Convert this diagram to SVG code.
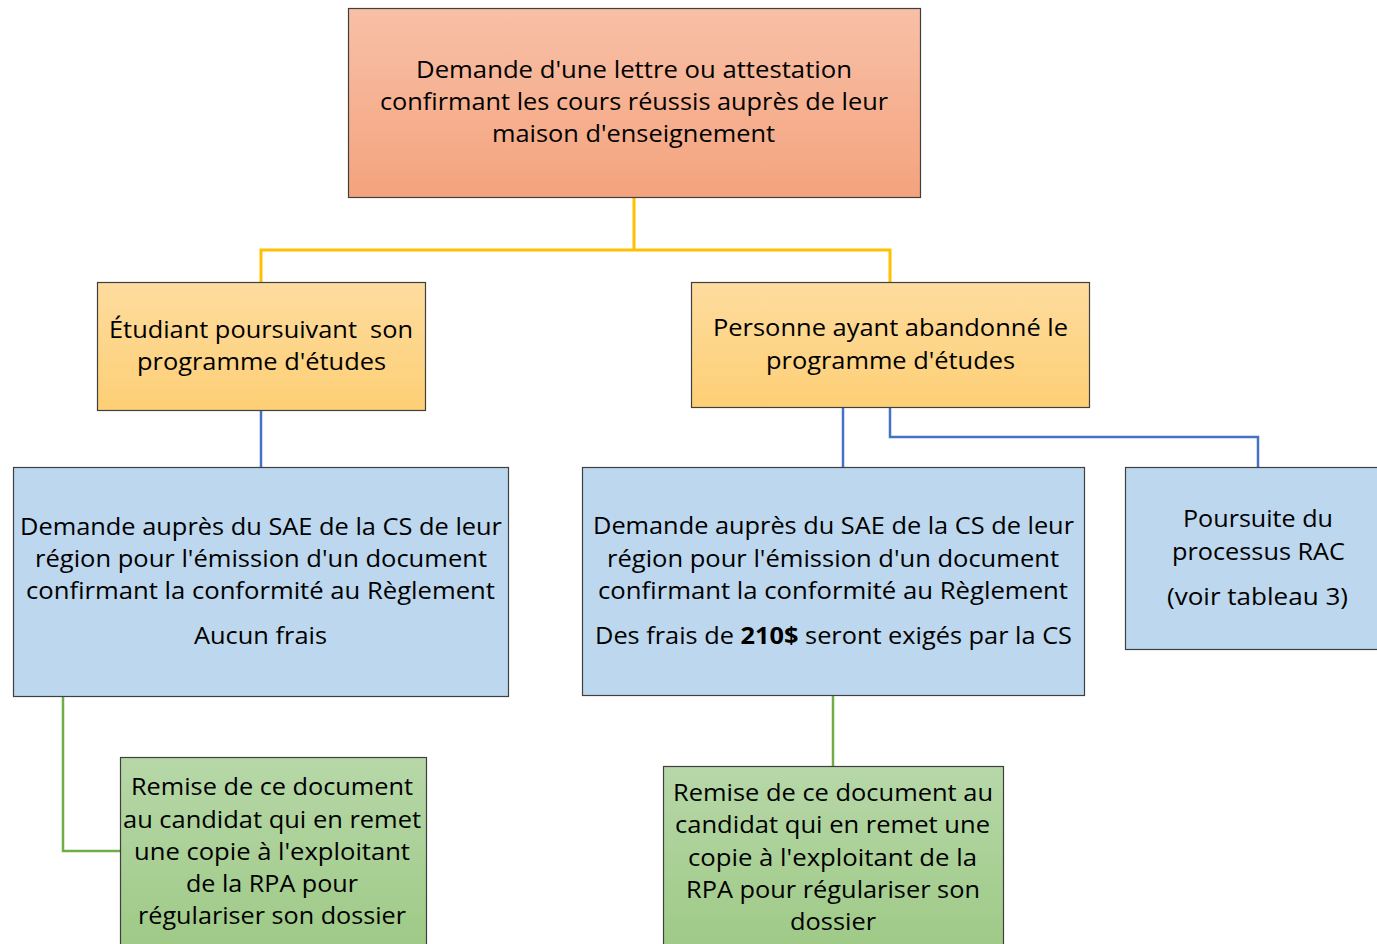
<svg xmlns="http://www.w3.org/2000/svg" width="1377" height="944" viewBox="0 0 1377 944">
<defs>
<linearGradient id="gOrange" x1="0" y1="0" x2="0" y2="1"><stop offset="0" stop-color="#F8C0A7"/><stop offset="1" stop-color="#F4A37D"/></linearGradient>
<linearGradient id="gYellow" x1="0" y1="0" x2="0" y2="1"><stop offset="0" stop-color="#FEDC9F"/><stop offset="1" stop-color="#FDCF75"/></linearGradient>
<linearGradient id="gGreen" x1="0" y1="0" x2="0" y2="1"><stop offset="0" stop-color="#B7D7A8"/><stop offset="1" stop-color="#9DC985"/></linearGradient>
</defs>
<style>
.box{stroke:#3F3F3F;stroke-width:1.2}
.blue{fill:#BDD7EE}
.t{font-family:"Open Sans","Liberation Sans",sans-serif;font-size:23px;fill:#000;text-anchor:start}
.cy{fill:none;stroke:#FFC000;stroke-width:3}
.cb{fill:none;stroke:#4472C4;stroke-width:2.5}
.cg{fill:none;stroke:#70AD47;stroke-width:2.5}
</style>
<rect width="1377" height="944" fill="#FFFFFF"/>
<g id="connectors">
<path class="cy" d="M634,197 V250 M261,282 V250 H890 V282"/>
<path class="cb" d="M261,410 V467"/>
<path class="cb" d="M843,407 V467"/>
<path class="cb" d="M890,407 V437 H1258 V467"/>
<path class="cg" d="M63,696 V851 H120"/>
<path class="cg" d="M833,695 V766"/>
</g>
<g id="n-top">
<rect class="box" x="348.5" y="8.5" width="572" height="189" fill="url(#gOrange)"/>
<text class="t" x="416" y="78" textLength="436" lengthAdjust="spacingAndGlyphs">Demande d'une lettre ou attestation</text>
<text class="t" x="380" y="110" textLength="508" lengthAdjust="spacingAndGlyphs">confirmant les cours réussis auprès de leur</text>
<text class="t" x="492" y="142" textLength="283" lengthAdjust="spacingAndGlyphs">maison d'enseignement</text>
</g>
<g id="n-etudiant">
<rect class="box" x="97.5" y="282.5" width="328" height="128" fill="url(#gYellow)"/>
<text class="t" x="109" y="338" textLength="304" lengthAdjust="spacingAndGlyphs" xml:space="preserve">Étudiant poursuivant  son</text>
<text class="t" x="137" y="370" textLength="249" lengthAdjust="spacingAndGlyphs">programme d'études</text>
</g>
<g id="n-abandon">
<rect class="box" x="691.5" y="282.5" width="398" height="125" fill="url(#gYellow)"/>
<text class="t" x="713" y="336" textLength="355" lengthAdjust="spacingAndGlyphs">Personne ayant abandonné le</text>
<text class="t" x="766" y="369" textLength="249" lengthAdjust="spacingAndGlyphs">programme d'études</text>
</g>
<g id="n-demande-gauche">
<rect class="box blue" x="13.5" y="467.5" width="495" height="229"/>
<text class="t" x="20" y="535" textLength="482" lengthAdjust="spacingAndGlyphs">Demande auprès du SAE de la CS de leur</text>
<text class="t" x="35" y="567" textLength="452" lengthAdjust="spacingAndGlyphs">région pour l'émission d'un document</text>
<text class="t" x="26" y="599" textLength="469" lengthAdjust="spacingAndGlyphs">confirmant la conformité au Règlement</text>
<text class="t" x="194" y="644" textLength="133" lengthAdjust="spacingAndGlyphs">Aucun frais</text>
</g>
<g id="n-demande-milieu">
<rect class="box blue" x="582.5" y="467.5" width="502" height="228"/>
<text class="t" x="593" y="534" textLength="481" lengthAdjust="spacingAndGlyphs">Demande auprès du SAE de la CS de leur</text>
<text class="t" x="607" y="567" textLength="452" lengthAdjust="spacingAndGlyphs">région pour l'émission d'un document</text>
<text class="t" x="598" y="599" textLength="470" lengthAdjust="spacingAndGlyphs">confirmant la conformité au Règlement</text>
<text class="t" x="595" y="644" textLength="477" lengthAdjust="spacingAndGlyphs">Des frais de <tspan font-weight="bold">210$</tspan> seront exigés par la CS</text>
</g>
<g id="n-rac">
<rect class="box blue" x="1125.5" y="467.5" width="260" height="182"/>
<text class="t" x="1183" y="527" textLength="150" lengthAdjust="spacingAndGlyphs">Poursuite du</text>
<text class="t" x="1172" y="560" textLength="173" lengthAdjust="spacingAndGlyphs">processus RAC</text>
<text class="t" x="1167" y="605" textLength="181" lengthAdjust="spacingAndGlyphs">(voir tableau 3)</text>
</g>
<g id="n-remise-gauche">
<rect class="box" x="120.5" y="757.5" width="306" height="200" fill="url(#gGreen)"/>
<text class="t" x="131" y="795" textLength="282" lengthAdjust="spacingAndGlyphs">Remise de ce document</text>
<text class="t" x="123" y="828" textLength="298" lengthAdjust="spacingAndGlyphs">au candidat qui en remet</text>
<text class="t" x="134" y="860" textLength="276" lengthAdjust="spacingAndGlyphs">une copie à l'exploitant</text>
<text class="t" x="186" y="892" textLength="172" lengthAdjust="spacingAndGlyphs">de la RPA pour</text>
<text class="t" x="138" y="924" textLength="268" lengthAdjust="spacingAndGlyphs">régulariser son dossier</text>
</g>
<g id="n-remise-milieu">
<rect class="box" x="663.5" y="766.5" width="340" height="190" fill="url(#gGreen)"/>
<text class="t" x="673" y="801" textLength="320" lengthAdjust="spacingAndGlyphs">Remise de ce document au</text>
<text class="t" x="675" y="833" textLength="315" lengthAdjust="spacingAndGlyphs">candidat qui en remet une</text>
<text class="t" x="688" y="866" textLength="289" lengthAdjust="spacingAndGlyphs">copie à l'exploitant de la</text>
<text class="t" x="686" y="898" textLength="294" lengthAdjust="spacingAndGlyphs">RPA pour régulariser son</text>
<text class="t" x="790" y="930" textLength="86" lengthAdjust="spacingAndGlyphs">dossier</text>
</g>
</svg>
